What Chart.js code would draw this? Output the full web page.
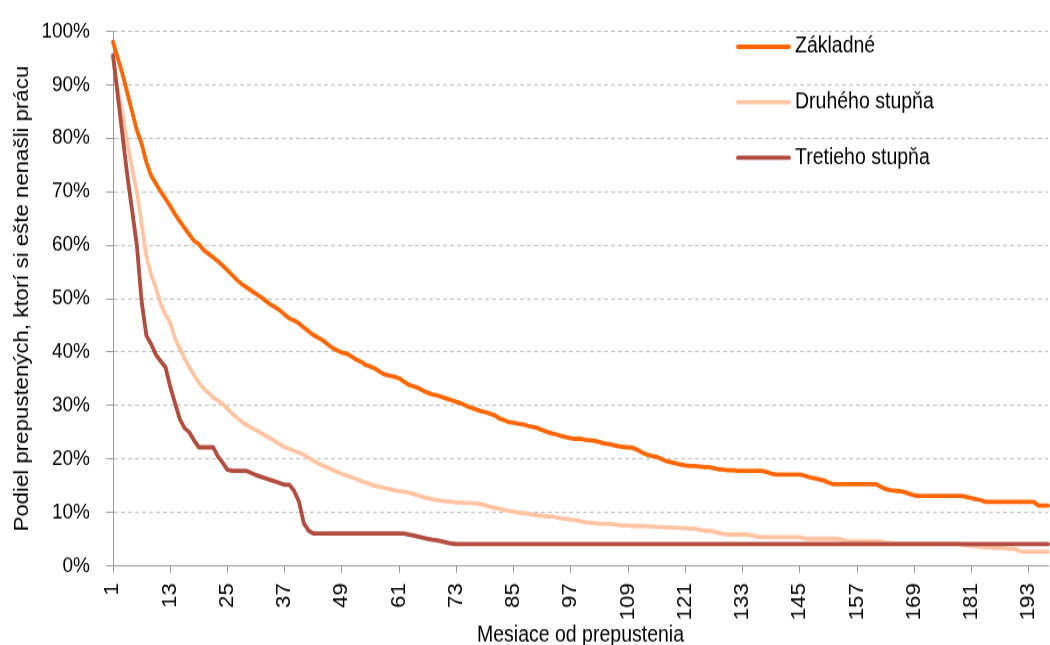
<!DOCTYPE html>
<html>
<head>
<meta charset="utf-8">
<script src="https://cdn.jsdelivr.net/npm/chart.js@4"></script>
<style>
  html { overflow: hidden; }
  body { margin: 0; padding: 0; background: #fff; height: 645px; }
  /* the reference is stretched vertically, so the chart is drawn shorter and scaled up */
  #wrap { width: 1050px; height: 566px; transform: scaleY(1.1396); transform-origin: 0 0; }
</style>
</head>
<body>
<div id="wrap"><canvas id="chart" width="1050" height="566"></canvas></div>
<script>
// Months since release (category axis)
const months = [
    1, 2, 3, 4, 5, 6, 7, 8, 9, 10, 11, 12,
    13, 14, 15, 16, 17, 18, 19, 20, 21, 22, 23, 24,
    25, 26, 27, 28, 29, 30, 31, 32, 33, 34, 35, 36,
    37, 38, 39, 40, 41, 42, 43, 44, 45, 46, 47, 48,
    49, 50, 51, 52, 53, 54, 55, 56, 57, 58, 59, 60,
    61, 62, 63, 64, 65, 66, 67, 68, 69, 70, 71, 72,
    73, 74, 75, 76, 77, 78, 79, 80, 81, 82, 83, 84,
    85, 86, 87, 88, 89, 90, 91, 92, 93, 94, 95, 96,
    97, 98, 99, 100, 101, 102, 103, 104, 105, 106, 107, 108,
    109, 110, 111, 112, 113, 114, 115, 116, 117, 118, 119, 120,
    121, 122, 123, 124, 125, 126, 127, 128, 129, 130, 131, 132,
    133, 134, 135, 136, 137, 138, 139, 140, 141, 142, 143, 144,
    145, 146, 147, 148, 149, 150, 151, 152, 153, 154, 155, 156,
    157, 158, 159, 160, 161, 162, 163, 164, 165, 166, 167, 168,
    169, 170, 171, 172, 173, 174, 175, 176, 177, 178, 179, 180,
    181, 182, 183, 184, 185, 186, 187, 188, 189, 190, 191, 192,
    193, 194, 195, 196, 197
];

// Months that get a label and a tick mark
const tickLabels = [1, 13, 25, 37, 49, 61, 73, 85, 97, 109, 121, 133, 145, 157, 169, 181, 193];

const seriesNames = ['Základné', 'Druhého stupňa', 'Tretieho stupňa'];

// Share still without a job, %
const zakladne = [
    98.0, 95.0, 92.0, 88.5, 85.0, 81.5, 79.0, 75.5, 73.0, 71.5, 70.0, 68.7,
    67.3, 65.8, 64.5, 63.2, 62.0, 60.8, 60.2, 59.1, 58.4, 57.7, 57.0, 56.2,
    55.3, 54.4, 53.5, 52.7, 52.1, 51.5, 50.9, 50.3, 49.6, 48.9, 48.4, 47.8,
    47.0, 46.3, 45.9, 45.4, 44.6, 43.9, 43.2, 42.7, 42.2, 41.5, 40.8, 40.3,
    39.9, 39.7, 39.2, 38.6, 38.2, 37.6, 37.3, 36.9, 36.3, 35.8, 35.6, 35.4,
    35.1, 34.5, 33.9, 33.6, 33.3, 32.8, 32.4, 32.1, 31.9, 31.6, 31.3, 31.0,
    30.7, 30.4, 30.0, 29.6, 29.3, 29.0, 28.8, 28.5, 28.2, 27.6, 27.3, 26.9,
    26.8, 26.6, 26.5, 26.2, 26.0, 25.8, 25.4, 25.1, 24.8, 24.6, 24.3, 24.1,
    23.9, 23.8, 23.8, 23.6, 23.5, 23.4, 23.2, 22.9, 22.8, 22.6, 22.4, 22.3,
    22.2, 22.1, 21.7, 21.2, 20.8, 20.6, 20.4, 20.0, 19.6, 19.4, 19.2, 19.0,
    18.8, 18.7, 18.7, 18.6, 18.5, 18.5, 18.3, 18.1, 18.0, 17.9, 17.9, 17.8,
    17.8, 17.8, 17.8, 17.8, 17.8, 17.6, 17.3, 17.1, 17.1, 17.1, 17.1, 17.1,
    17.1, 16.9, 16.6, 16.4, 16.2, 16.0, 15.6, 15.3, 15.3, 15.3, 15.3, 15.3,
    15.3, 15.3, 15.3, 15.3, 15.3, 14.8, 14.4, 14.2, 14.1, 14.0, 13.8, 13.5,
    13.2, 13.1, 13.1, 13.1, 13.1, 13.1, 13.1, 13.1, 13.1, 13.1, 13.1, 12.9,
    12.7, 12.5, 12.3, 12.0, 12.0, 12.0, 12.0, 12.0, 12.0, 12.0, 12.0, 12.0,
    12.0, 12.0, 11.3, 11.3, 11.3
];

const druheho = [
    95.0, 89.0, 84.5, 79.0, 74.5, 70.0, 64.0, 58.0, 54.5, 52.0, 49.0, 47.0,
    45.5, 42.5, 40.7, 38.8, 37.2, 35.7, 34.3, 33.2, 32.4, 31.5, 30.9, 30.3,
    29.4, 28.5, 27.7, 27.0, 26.4, 25.9, 25.4, 24.9, 24.4, 23.9, 23.3, 22.8,
    22.2, 21.9, 21.5, 21.2, 20.8, 20.2, 19.7, 19.2, 18.8, 18.4, 18.0, 17.6,
    17.2, 16.9, 16.6, 16.3, 15.9, 15.6, 15.3, 15.0, 14.8, 14.6, 14.4, 14.2,
    14.0, 13.9, 13.7, 13.5, 13.2, 12.9, 12.7, 12.5, 12.3, 12.2, 12.1, 12.0,
    11.9, 11.9, 11.8, 11.8, 11.7, 11.6, 11.4, 11.1, 10.9, 10.7, 10.5, 10.3,
    10.2, 10.0, 9.9, 9.8, 9.6, 9.5, 9.4, 9.3, 9.3, 9.1, 8.9, 8.8,
    8.7, 8.6, 8.4, 8.2, 8.1, 8.0, 7.9, 7.9, 7.9, 7.8, 7.7, 7.6,
    7.6, 7.5, 7.5, 7.5, 7.4, 7.4, 7.3, 7.3, 7.2, 7.2, 7.2, 7.1,
    7.1, 7.0, 7.0, 6.8, 6.6, 6.6, 6.4, 6.2, 6.0, 5.9, 5.9, 5.9,
    5.9, 5.9, 5.7, 5.5, 5.4, 5.4, 5.4, 5.4, 5.4, 5.4, 5.4, 5.4,
    5.4, 5.2, 5.1, 5.1, 5.1, 5.1, 5.1, 5.1, 5.1, 4.9, 4.6, 4.6,
    4.6, 4.6, 4.6, 4.6, 4.6, 4.6, 4.4, 4.3, 4.2, 4.2, 4.2, 4.2,
    4.2, 4.2, 4.2, 4.2, 4.2, 4.2, 4.2, 4.2, 4.2, 4.2, 4.0, 3.9,
    3.8, 3.7, 3.6, 3.5, 3.5, 3.4, 3.4, 3.3, 3.2, 3.2, 2.8, 2.7,
    2.7, 2.7, 2.7, 2.7, 2.7
];

const tretieho = [
    95.5, 88.0, 80.5, 73.0, 66.5, 60.0, 49.5, 43.1, 41.5, 39.5, 38.3, 37.2,
    33.5, 30.5, 27.5, 25.8, 25.0, 23.5, 22.2, 22.2, 22.2, 22.2, 20.5, 19.3,
    18.0, 17.8, 17.8, 17.8, 17.8, 17.4, 17.0, 16.7, 16.4, 16.1, 15.8, 15.5,
    15.2, 15.2, 14.0, 12.0, 8.0, 6.6, 6.1, 6.1, 6.1, 6.1, 6.1, 6.1,
    6.1, 6.1, 6.1, 6.1, 6.1, 6.1, 6.1, 6.1, 6.1, 6.1, 6.1, 6.1,
    6.1, 6.1, 5.9, 5.7, 5.5, 5.3, 5.1, 4.9, 4.8, 4.6, 4.4, 4.2,
    4.1, 4.1, 4.1, 4.1, 4.1, 4.1, 4.1, 4.1, 4.1, 4.1, 4.1, 4.1,
    4.1, 4.1, 4.1, 4.1, 4.1, 4.1, 4.1, 4.1, 4.1, 4.1, 4.1, 4.1,
    4.1, 4.1, 4.1, 4.1, 4.1, 4.1, 4.1, 4.1, 4.1, 4.1, 4.1, 4.1,
    4.1, 4.1, 4.1, 4.1, 4.1, 4.1, 4.1, 4.1, 4.1, 4.1, 4.1, 4.1,
    4.1, 4.1, 4.1, 4.1, 4.1, 4.1, 4.1, 4.1, 4.1, 4.1, 4.1, 4.1,
    4.1, 4.1, 4.1, 4.1, 4.1, 4.1, 4.1, 4.1, 4.1, 4.1, 4.1, 4.1,
    4.1, 4.1, 4.1, 4.1, 4.1, 4.1, 4.1, 4.1, 4.1, 4.1, 4.1, 4.1,
    4.1, 4.1, 4.1, 4.1, 4.1, 4.1, 4.1, 4.1, 4.1, 4.1, 4.1, 4.1,
    4.1, 4.1, 4.1, 4.1, 4.1, 4.1, 4.1, 4.1, 4.1, 4.1, 4.1, 4.1,
    4.1, 4.1, 4.1, 4.1, 4.1, 4.1, 4.1, 4.1, 4.1, 4.1, 4.1, 4.1,
    4.1, 4.1, 4.1, 4.1, 4.1
];

const FONT = '"Liberation Sans", Arial, sans-serif';
Chart.defaults.font.family = FONT;
Chart.defaults.color = '#000';

// Legend drawn inside the plot, top right
const insideLegend = {
    id: 'insideLegend',
    afterDraw(chart) {
        const ctx = chart.ctx;
        ctx.save();
        ctx.font = '19.5px ' + FONT;
        ctx.textBaseline = 'middle';
        ctx.fillStyle = '#000';
        chart.data.datasets.forEach((ds, i) => {
            const y = 41 + i * 48.7;
            ctx.strokeStyle = ds.borderColor;
            ctx.lineWidth = 3.8;
            ctx.lineCap = 'round';
            ctx.beginPath();
            ctx.moveTo(738, y);
            ctx.lineTo(789, y);
            ctx.stroke();
            ctx.fillText(ds.label, 795, y);
        });
        ctx.restore();
    }
};

const lineStyle = { borderWidth: 3.8, pointRadius: 0, tension: 0, borderJoinStyle: 'round', borderCapStyle: 'round', fill: false };

new Chart(document.getElementById('chart'), {
    type: 'line',
    data: {
        labels: months,
        datasets: [
            { label: seriesNames[0], data: zakladne, borderColor: '#FF6600', order: 3, ...lineStyle },
            { label: seriesNames[1], data: druheho, borderColor: '#FFC4A3', order: 2, ...lineStyle },
            { label: seriesNames[2], data: tretieho, borderColor: '#B14C3F', order: 1, ...lineStyle }
        ]
    },
    options: {
        responsive: false,
        devicePixelRatio: 1,
        animation: false,
        layout: { padding: { top: 24, right: 2, left: 0, bottom: 0 } },
        plugins: {
            legend: { display: false },
            tooltip: { enabled: false }
        },
        scales: {
            x: {
                type: 'category',
                offset: false,
                afterFit: (scale) => {
                    scale.height = 69.3;
                    scale.paddingRight = 0;
                    scale.paddingLeft = 0;
                },
                grid: {
                    display: true,
                    drawOnChartArea: false,
                    drawTicks: true,
                    tickLength: 6,
                    tickWidth: 1,
                    tickColor: (c) => tickLabels.includes(months[c.index]) ? '#999' : 'rgba(0,0,0,0)'
                },
                border: { display: true, color: '#999', width: 1 },
                ticks: {
                    autoSkip: false,
                    minRotation: 90,
                    maxRotation: 90,
                    padding: 9,
                    font: { size: 19.5 },
                    callback: (value, index) => tickLabels.includes(months[index]) ? String(months[index]) : ''
                },
                title: {
                    display: true,
                    text: 'Mesiace od prepustenia',
                    font: { size: 19.5 },
                    padding: { top: 0, bottom: -3.5 }
                }
            },
            y: {
                min: 0,
                max: 100,
                afterFit: (scale) => { scale.width = 113; },
                grid: {
                    color: '#bdbdbd',
                    lineWidth: 1,
                    tickLength: 7,
                    tickColor: '#999',
                    tickBorderDash: []
                },
                border: { display: true, color: '#999', width: 1, dash: [4, 3] },
                ticks: {
                    stepSize: 10,
                    padding: 16,
                    font: { size: 19 },
                    callback: (v) => v + '%'
                },
                title: {
                    display: true,
                    text: 'Podiel prepustených, ktorí si ešte nenašli prácu',
                    font: { size: 19.5 },
                    padding: { top: 11, bottom: 0 }
                }
            }
        }
    },
    plugins: [insideLegend]
});
</script>
</body>
</html>
